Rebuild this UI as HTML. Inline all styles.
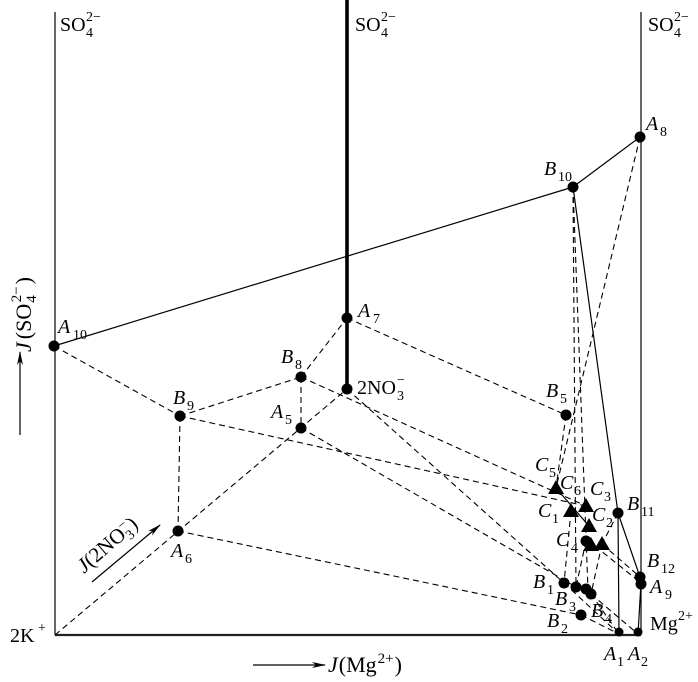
<!DOCTYPE html>
<html>
<head>
<meta charset="utf-8">
<style>
html,body{margin:0;padding:0;background:#fff;}
svg{display:block;}
text{font-family:"Liberation Serif",serif;fill:#000;}
.m{font-size:20px;}
.i{font-size:20px;font-style:italic;}
.s{font-size:14px;}
.d{stroke:#000;stroke-width:1.1;stroke-dasharray:6 4;fill:none;}
.l{stroke:#000;stroke-width:1.2;fill:none;}
</style>
</head>
<body>
<svg width="698" height="682" viewBox="0 0 698 682" xmlns="http://www.w3.org/2000/svg">
<defs>
<marker id="ah" markerWidth="14" markerHeight="8" refX="13" refY="4" orient="auto" markerUnits="userSpaceOnUse">
<path d="M0,1 L14,4 L0,7 L4,4 Z" fill="#000"/>
</marker>
</defs>

<!-- frame -->
<line class="l" x1="55" y1="12" x2="55" y2="635"/>
<line class="l" x1="641" y1="12" x2="641" y2="635"/>
<line x1="55" y1="635" x2="641" y2="635" stroke="#222" stroke-width="2.2"/>
<line x1="347" y1="0" x2="347" y2="389" stroke="#000" stroke-width="3.6"/>

<!-- solid lines -->
<line class="l" x1="54" y1="346" x2="573" y2="187"/>
<line class="l" x1="573" y1="187" x2="640" y2="137"/>
<line class="l" x1="573" y1="187" x2="618" y2="513"/>
<line class="l" x1="618" y1="513" x2="619" y2="634"/>
<line class="l" x1="618" y1="513" x2="640" y2="577"/>
<line class="l" x1="641" y1="583" x2="638" y2="634"/>
<line class="l" x1="556" y1="488" x2="589" y2="526"/>

<!-- dashed lines -->
<line class="d" x1="54" y1="346" x2="180" y2="416"/>
<line class="d" x1="180" y1="416" x2="301" y2="377"/>
<line class="d" x1="301" y1="377" x2="347" y2="318"/>
<line class="d" x1="347" y1="318" x2="566" y2="415"/>
<line class="d" x1="180" y1="416" x2="178" y2="531"/>
<line class="d" x1="301" y1="377" x2="301" y2="428"/>
<line class="d" x1="55" y1="635" x2="347" y2="389"/>
<line class="d" x1="178" y1="531" x2="581" y2="615"/>
<line class="d" x1="180" y1="416" x2="586" y2="506"/>
<line class="d" x1="301" y1="377" x2="586" y2="506"/>
<line class="d" x1="347" y1="389" x2="564" y2="583"/>
<line class="d" x1="301" y1="428" x2="576" y2="587"/>
<line class="d" x1="566" y1="415" x2="556" y2="488"/>
<line class="d" x1="640" y1="137" x2="556" y2="488"/>
<line class="d" x1="573" y1="187" x2="576" y2="587"/>
<line class="d" x1="573" y1="187" x2="588" y2="590"/>
<line class="d" x1="571" y1="511" x2="564" y2="583"/>
<line class="d" x1="586" y1="541" x2="576" y2="587"/>
<line class="d" x1="602" y1="544" x2="591" y2="594"/>
<line class="d" x1="618" y1="513" x2="602" y2="544"/>
<line class="d" x1="602" y1="544" x2="640" y2="577"/>
<line class="d" x1="595" y1="546" x2="641" y2="583"/>
<line class="d" x1="591" y1="594" x2="619" y2="634"/>
<line class="d" x1="591" y1="594" x2="638" y2="634"/>
<line class="d" x1="581" y1="615" x2="619" y2="634"/>
<line class="d" x1="564" y1="583" x2="619" y2="634"/>

<!-- dots -->
<g fill="#000">
<circle cx="54" cy="346" r="5.5"/>
<circle cx="347" cy="318" r="5.5"/>
<circle cx="301" cy="377" r="5.5"/>
<circle cx="347" cy="389" r="5.5"/>
<circle cx="180" cy="416" r="5.5"/>
<circle cx="301" cy="428" r="5.5"/>
<circle cx="178" cy="531" r="5.5"/>
<circle cx="573" cy="187" r="5.5"/>
<circle cx="640" cy="137" r="5.5"/>
<circle cx="566" cy="415" r="5.5"/>
<circle cx="618" cy="513" r="5.5"/>
<circle cx="640" cy="577" r="5.5"/>
<circle cx="641" cy="584" r="5.5"/>
<circle cx="564" cy="583" r="5.5"/>
<circle cx="576" cy="587" r="5.5"/>
<circle cx="586" cy="589" r="5.5"/>
<circle cx="591" cy="594" r="5.5"/>
<circle cx="581" cy="615" r="5.5"/>
<circle cx="619" cy="632" r="4.5"/>
<circle cx="638" cy="632" r="4.5"/>
<circle cx="586" cy="541" r="5.5"/>
<!-- triangles -->
<polygon points="556,480 548,494 564,494"/>
<polygon points="571,503 563,517 579,517"/>
<polygon points="586,498 578,512 594,512"/>
<polygon points="589,518 581,532 597,532"/>
<polygon points="591,537 583,551 599,551"/>
<polygon points="602,536 594,550 610,550"/>
</g>

<!-- top labels -->
<text class="m" x="60" y="31">SO</text><text class="s" x="86" y="37">4</text><text class="s" x="86" y="21">2−</text>
<text class="m" x="355" y="31">SO</text><text class="s" x="381" y="37">4</text><text class="s" x="381" y="21">2−</text>
<text class="m" x="648" y="31">SO</text><text class="s" x="674" y="37">4</text><text class="s" x="674" y="21">2−</text>

<!-- point labels -->
<text class="i" x="58" y="333">A</text><text class="s" x="73" y="339">10</text>
<text class="i" x="358" y="317">A</text><text class="s" x="373" y="323">7</text>
<text class="i" x="281" y="363">B</text><text class="s" x="295" y="369">8</text>
<text class="m" x="357" y="394">2NO</text><text class="s" x="397" y="400">3</text><text class="s" x="397" y="384">−</text>
<text class="i" x="173" y="404">B</text><text class="s" x="187" y="410">9</text>
<text class="i" x="271" y="418">A</text><text class="s" x="285" y="424">5</text>
<text class="i" x="171" y="557">A</text><text class="s" x="185" y="563">6</text>
<text class="i" x="544" y="175">B</text><text class="s" x="558" y="181">10</text>
<text class="i" x="646" y="130">A</text><text class="s" x="660" y="136">8</text>
<text class="i" x="546" y="397">B</text><text class="s" x="560" y="403">5</text>
<text class="i" x="535" y="471">C</text><text class="s" x="549" y="477">5</text>
<text class="i" x="560" y="489">C</text><text class="s" x="574" y="495">6</text>
<text class="i" x="590" y="495">C</text><text class="s" x="604" y="501">3</text>
<text class="i" x="538" y="517">C</text><text class="s" x="552" y="523">1</text>
<text class="i" x="592" y="521">C</text><text class="s" x="606" y="527">2</text>
<text class="i" x="627" y="510">B</text><text class="s" x="641" y="516">11</text>
<text class="i" x="556" y="546">C</text><text class="s" x="571" y="552">4</text>
<text class="i" x="647" y="567">B</text><text class="s" x="661" y="573">12</text>
<text class="i" x="650" y="593">A</text><text class="s" x="665" y="599">9</text>
<text class="i" x="533" y="588">B</text><text class="s" x="547" y="594">1</text>
<text class="i" x="555" y="605">B</text><text class="s" x="569" y="611">3</text>
<text class="i" x="591" y="617">B</text><text class="s" x="605" y="623">4</text>
<text class="i" x="547" y="627">B</text><text class="s" x="561" y="633">2</text>
<text class="i" x="604" y="660">A</text><text class="s" x="617" y="666">1</text>
<text class="i" x="628" y="660">A</text><text class="s" x="641" y="666">2</text>
<text class="m" x="650" y="630">Mg</text><text class="s" x="678" y="620">2+</text>
<text class="m" x="10" y="642">2K</text><text class="s" x="38" y="632">+</text>

<!-- axis arrows and labels -->
<line x1="253" y1="665" x2="325" y2="665" stroke="#000" stroke-width="1.2" marker-end="url(#ah)"/>
<text x="328" y="672" style="font-size:22px"><tspan font-style="italic">J</tspan><tspan dx="1">(Mg</tspan><tspan class="s" dx="1" dy="-9" style="font-size:15px">2+</tspan><tspan dx="1" dy="9">)</tspan></text>

<line x1="20" y1="435" x2="20" y2="352" stroke="#000" stroke-width="1.2" marker-end="url(#ah)"/>
<text transform="translate(31,352) rotate(-90)" style="font-size:22px"><tspan font-style="italic">J</tspan><tspan dx="3">(SO</tspan><tspan class="s" dx="1" dy="5" style="font-size:15px">4</tspan><tspan class="s" dx="-7" dy="-15" style="font-size:15px">2−</tspan><tspan dx="2" dy="10">)</tspan></text>

<line x1="92" y1="582" x2="160" y2="525" stroke="#000" stroke-width="1.2" marker-end="url(#ah)"/>
<text transform="translate(84,574) rotate(-41)" style="font-size:21px"><tspan font-style="italic">J</tspan>(2NO<tspan class="s" dy="5">3</tspan><tspan class="s" dx="-7" dy="-13">−</tspan><tspan dx="1" dy="8">)</tspan></text>
</svg>
</body>
</html>
